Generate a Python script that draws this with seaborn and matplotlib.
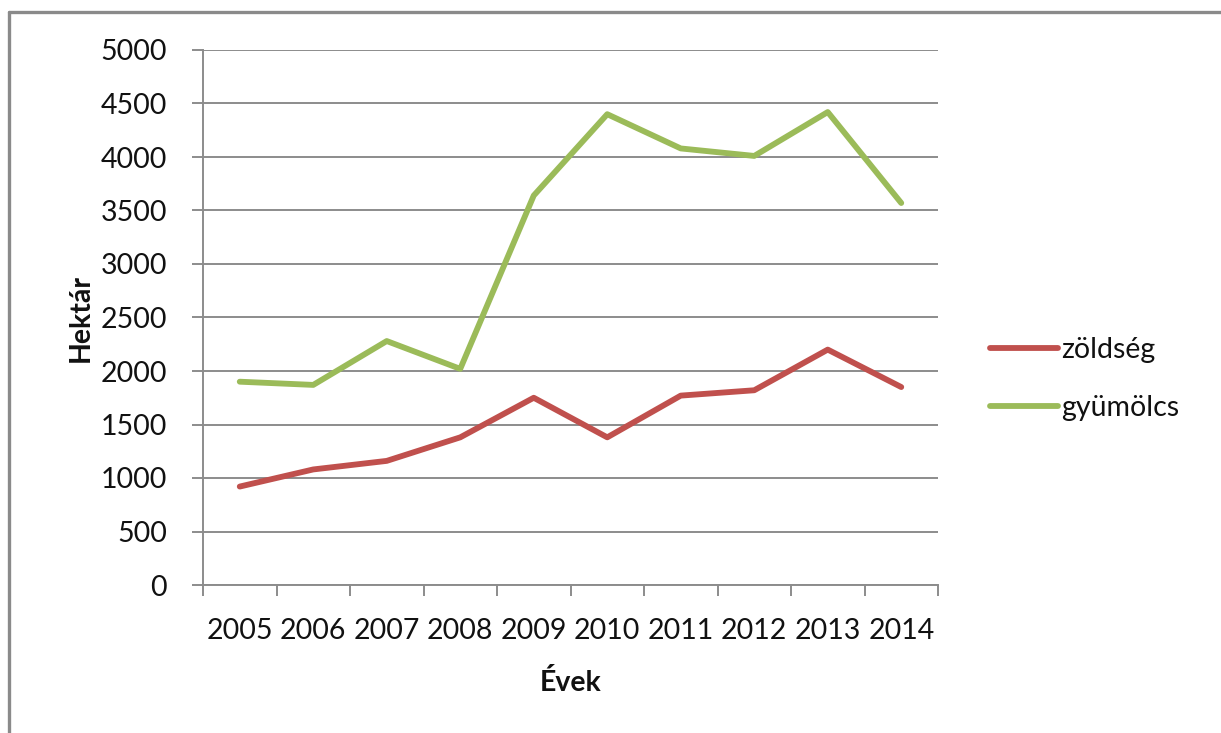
import matplotlib
matplotlib.use("Agg")
import matplotlib.pyplot as plt
from matplotlib.lines import Line2D
from matplotlib.ticker import FixedLocator, MultipleLocator
import seaborn as sns
import pandas as pd

years = [2005, 2006, 2007, 2008, 2009, 2010, 2011, 2012, 2013, 2014]
zoldseg = [920, 1080, 1160, 1380, 1750, 1380, 1770, 1820, 2200, 1850]
gyumolcs = [1900, 1870, 2280, 2020, 3640, 4400, 4080, 4010, 4420, 3570]
series_names = ["zöldség", "gyümölcs"]
series_colors = ["#C0504D", "#9BBB59"]

df = pd.concat([
    pd.DataFrame({"Évek": years, "Hektár": zoldseg, "sorozat": series_names[0]}),
    pd.DataFrame({"Évek": years, "Hektár": gyumolcs, "sorozat": series_names[1]}),
])

sns.set_theme(style="white")
plt.rcParams["font.family"] = ["Lato", "DejaVu Sans"]

W, H = 1221, 733
fig = plt.figure(figsize=(W / 100, H / 100), dpi=100)
ax = fig.add_axes([203 / W, 1 - 585 / H, (938 - 203) / W, (585 - 50) / H])

LW = 4.2
sns.lineplot(data=df, x="Évek", y="Hektár", hue="sorozat",
             palette=dict(zip(series_names, series_colors)),
             linewidth=LW, ax=ax, legend=False, solid_capstyle="round")

grid_c = "#8C8C8C"
text_c = "#111111"
FS = 20.5
ax.set_xlim(years[0] - 0.5, years[-1] + 0.5)
ax.set_ylim(0, 5000)
ax.yaxis.set_major_locator(MultipleLocator(500))
ax.yaxis.grid(True, color=grid_c, linewidth=1.4)
ax.set_axisbelow(True)

# category labels at the centers, tick marks on the boundaries
ax.set_xticks(years)
ax.set_xticklabels([str(y) for y in years])
ax.xaxis.set_minor_locator(FixedLocator([y - 0.5 for y in years] + [years[-1] + 0.5]))
ax.tick_params(axis="x", which="major", length=0, labelsize=FS, pad=24, colors=text_c)
ax.tick_params(axis="x", which="minor", length=8, width=1.4, color=grid_c, direction="out", bottom=True)
ax.tick_params(axis="y", which="major", length=8, width=1.4, color=grid_c, direction="out",
               left=True, labelsize=FS, pad=18, colors=text_c)

for s in ["top", "right"]:
    ax.spines[s].set_visible(False)
for s in ["left", "bottom"]:
    ax.spines[s].set_color(grid_c)
    ax.spines[s].set_linewidth(1.4)

ax.set_xlabel("Évek", fontsize=FS, fontweight="bold", labelpad=18, color=text_c)
ax.set_ylabel("Hektár", fontsize=FS, fontweight="bold", labelpad=5, color=text_c)

handles = [Line2D([], [], color=c, linewidth=LW, solid_capstyle="round") for c in series_colors]
fig.legend(handles, series_names, loc="center left", bbox_to_anchor=(964 / W, 1 - 379 / H),
           frameon=False, fontsize=FS, handlelength=2.4, handletextpad=0.12,
           labelspacing=1.1, labelcolor=text_c)

# chart border
fig.add_artist(Line2D([9 / W, 9 / W], [0, 1 - 12 / H], color="#8A8A8A", linewidth=2.4,
                      transform=fig.transFigure))
fig.add_artist(Line2D([9 / W, 1], [1 - 12 / H, 1 - 12 / H], color="#8A8A8A", linewidth=2.4,
                      transform=fig.transFigure))

fig.savefig("out.png", dpi=100)
